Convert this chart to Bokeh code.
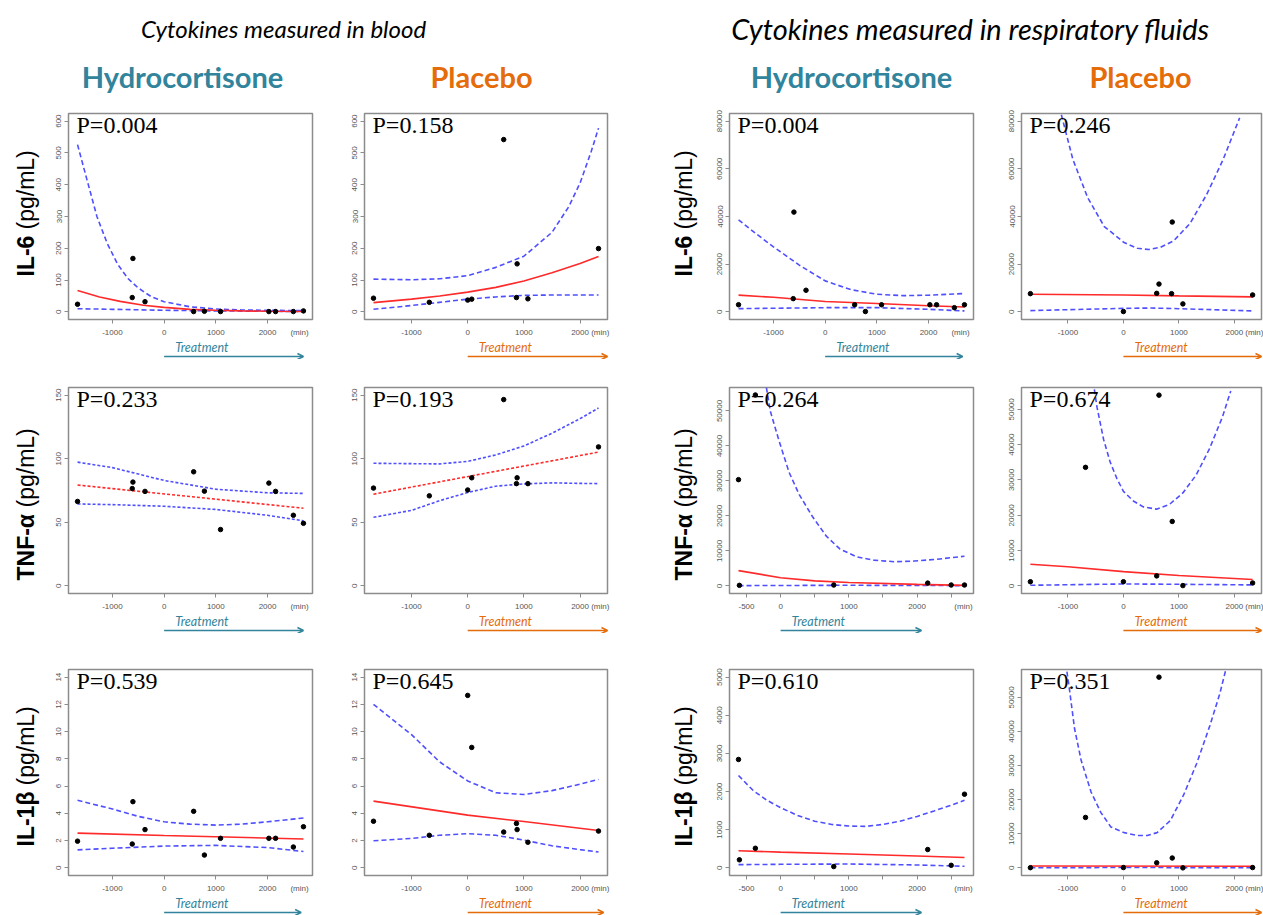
from bokeh.plotting import figure
from bokeh.layouts import row, column
from bokeh.models import Range1d, FixedTicker, Label, Arrow, OpenHead
from bokeh.embed import file_html
from bokeh.resources import INLINE

TEAL = "#31849B"
ORANGE = "#E46C0A"
RED = "#FF2A2A"
BLUE = "#4F4FFF"
GRAY = "#8c8c8c"

# ---------------- sample times (min) ----------------
HC_T = [-1675, -617, -604, -370, 571, 779, 1091, 2026, 2156, 2500, 2695]
BP_T = [-1677, -683, 0, 72, 641, 868, 880, 1072, 2329]
RH_T = [-617, -604, -370, 779, 2156, 2500, 2695]
RP_IL6_T = [-1677, 0, 600, 641, 868, 880, 1072, 2329]
RP_T = [-1677, -683, 0, 600, 641, 880, 1072, 2329]

# ---------------- Blood, Hydrocortisone, IL-6 ----------------
BH_IL6_Y = [24, 45, 168, 32, 1, 2, 1, 1, 1, 1, 3]
BH_IL6_FIT_X = [-1675, -1250, -850, -400, 0, 500, 1000, 1500, 2000, 2695]
BH_IL6_FIT_Y = [67, 47, 33, 21, 14, 8, 5, 3, 2, 1]
BH_IL6_HI_X = [-1675, -1500, -1300, -1100, -900, -700, -500, -250, 0, 500, 1000, 1500, 2000, 2695]
BH_IL6_HI_Y = [526, 420, 300, 215, 150, 105, 75, 48, 32, 16, 9, 6, 5, 4]
BH_IL6_LO_X = [-1675, -1000, 0, 1000, 2000, 2695]
BH_IL6_LO_Y = [10, 8, 5, 3, 2, 1]

# ---------------- Blood, Placebo, IL-6 ----------------
BP_IL6_Y = [43, 30, 37, 40, 542, 45, 151, 41, 199]
BP_IL6_FIT_X = [-1677, -1000, -500, 0, 500, 1000, 1500, 2000, 2329]
BP_IL6_FIT_Y = [29, 40, 50, 62, 77, 97, 123, 152, 174]
BP_IL6_HI_X = [-1677, -1000, -500, 0, 500, 1000, 1500, 1800, 2000, 2200, 2329]
BP_IL6_HI_Y = [103, 101, 104, 114, 140, 175, 250, 331, 405, 505, 578]
BP_IL6_LO_X = [-1677, -1000, -500, 0, 500, 1000, 1500, 2329]
BP_IL6_LO_Y = [8, 20, 30, 40, 47, 52, 53, 53]

# ---------------- Respiratory, Hydrocortisone, IL-6 ----------------
RH_IL6_Y = [3000, 5550, 41840, 9070, 2980, 135, 2980, 2980, 2980, 1760, 2980]
RH_IL6_FIT_X = [-1675, -1000, 0, 1000, 2000, 2695]
RH_IL6_FIT_Y = [7040, 6100, 4330, 3520, 2570, 2030]
RH_IL6_HI_X = [-1675, -1350, -1000, -500, 0, 500, 1000, 1500, 2000, 2695]
RH_IL6_HI_Y = [38600, 33000, 27300, 19600, 13000, 9300, 7400, 6800, 7000, 7700]
RH_IL6_LO_X = [-1675, 0, 1000, 2000, 2695]
RH_IL6_LO_Y = [1350, 1760, 1760, 1080, 400]

# ---------------- Respiratory, Placebo, IL-6 ----------------
RP_IL6_Y = [7640, 130, 7775, 11660, 7640, 37670, 3350, 7100]
RP_IL6_FIT_X = [-1677, 0, 1000, 2329]
RP_IL6_FIT_Y = [7370, 7100, 6700, 6300]
RP_IL6_HI_X = [-1119, -911, -643, -345, 12, 250, 458, 667, 905, 1202, 1500, 1798, 2095]
RP_IL6_HI_Y = [82700, 63940, 47860, 35790, 29090, 26680, 26140, 27080, 29760, 37130, 49200, 63940, 81370]
RP_IL6_LO_X = [-1677, 0, 500, 1000, 2329]
RP_IL6_LO_Y = [540, 1470, 1610, 1340, 400]

# ---------------- Blood, Hydrocortisone, TNF-a ----------------
BH_TNF_Y = [66.4, 76.5, 81.6, 74.3, 89.7, 74.5, 44.3, 80.8, 74.3, 55.5, 49.2]
BH_TNF_FIT_X = [-1675, 2695]
BH_TNF_FIT_Y = [79.3, 61.1]
BH_TNF_CI_X = [-1675, -1000, 0, 1000, 2000, 2695]
BH_TNF_HI_Y = [97.3, 93.0, 82.9, 76.0, 73.2, 72.7]
BH_TNF_LO_Y = [64.4, 63.9, 62.6, 60.1, 55.5, 51.2]

# ---------------- Blood, Placebo, TNF-a ----------------
BP_TNF_Y = [76.9, 70.8, 75.4, 85.0, 146.5, 80.4, 85.0, 80.4, 109.3]
BP_TNF_FIT_X = [-1677, 2329]
BP_TNF_FIT_Y = [72.1, 105.2]
BP_TNF_CI_X = [-1677, -1000, -500, 0, 500, 1000, 1500, 2000, 2329]
BP_TNF_HI_Y = [96.4, 96.1, 95.9, 97.9, 103, 110, 120, 131.5, 139.9]
BP_TNF_LO_Y = [53.9, 59.4, 67.0, 73.4, 78.4, 80.2, 81.0, 80.6, 80.4]

# ---------------- Respiratory, Hydrocortisone, TNF-a ----------------
RH_TNF_Y = [30380, 180, 54560, 270, 820, 270, 270]
RH_TNF_FIT_X = [-617, 0, 500, 1000, 2000, 2695]
RH_TNF_FIT_Y = [4380, 2370, 1460, 1000, 460, 180]
RH_TNF_HI_X = [-208, -149, -25, 124, 273, 471, 670, 868, 1117, 1365, 1663, 1960, 2258, 2695]
RH_TNF_HI_Y = [56660, 49820, 41600, 32480, 26100, 19700, 14230, 10580, 8300, 7390, 6930, 7120, 7570, 8490]
RH_TNF_LO_X = [-617, 1000, 2695]
RH_TNF_LO_Y = [100, 200, 100]

# ---------------- Respiratory, Placebo, TNF-a ----------------
RP_TNF_Y = [1190, 33580, 1190, 2840, 54040, 18260, 90, 830]
RP_TNF_FIT_X = [-1677, -1000, 0, 1000, 2329]
RP_TNF_FIT_Y = [6150, 5410, 4040, 2940, 1830]
RP_TNF_HI_X = [-524, -476, -357, -238, -119, 0, 179, 357, 595, 833, 1071, 1310, 1548, 1786, 1935]
RP_TNF_HI_Y = [55690, 50640, 41470, 35050, 30460, 26790, 24040, 22390, 21740, 23120, 26330, 31380, 38720, 47890, 55230]
RP_TNF_LO_X = [-1677, 0, 1000, 2329]
RP_TNF_LO_Y = [180, 550, 460, 280]

# ---------------- Blood, Hydrocortisone, IL-1b ----------------
BH_IL1_Y = [1.96, 1.75, 4.86, 2.81, 4.15, 0.94, 2.17, 2.17, 2.17, 1.53, 3.02]
BH_IL1_FIT_X = [-1675, 0, 2695]
BH_IL1_FIT_Y = [2.55, 2.38, 2.12]
BH_IL1_HI_X = [-1675, -1000, -500, 0, 500, 1000, 1500, 2000, 2695]
BH_IL1_HI_Y = [4.96, 4.32, 3.78, 3.38, 3.21, 3.14, 3.21, 3.38, 3.66]
BH_IL1_LO_X = [-1675, -1000, 0, 1000, 2000, 2695]
BH_IL1_LO_Y = [1.32, 1.44, 1.60, 1.65, 1.49, 1.20]

# ---------------- Blood, Placebo, IL-1b ----------------
BP_IL1_Y = [3.42, 2.39, 12.66, 8.84, 2.63, 3.26, 2.81, 1.88, 2.70]
BP_IL1_FIT_X = [-1677, 0, 1000, 2329]
BP_IL1_FIT_Y = [4.90, 3.87, 3.40, 2.74]
BP_IL1_CI_X = [-1677, -1000, -500, 0, 500, 1000, 1500, 2000, 2329]
BP_IL1_HI_Y = [12.0, 9.78, 7.78, 6.38, 5.51, 5.39, 5.67, 6.14, 6.49]
BP_IL1_LO_Y = [1.99, 2.16, 2.39, 2.51, 2.39, 2.04, 1.62, 1.34, 1.17]

# ---------------- Respiratory, Hydrocortisone, IL-1b ----------------
RH_IL1_Y = [2842, 211, 514, 34, 481, 67, 1931]
RH_IL1_FIT_X = [-617, 0, 1000, 2000, 2695]
RH_IL1_FIT_Y = [447, 413, 363, 312, 270]
RH_IL1_HI_X = [-617, -400, -200, 0, 250, 500, 750, 1000, 1250, 1500, 1750, 2000, 2250, 2500, 2695]
RH_IL1_HI_Y = [2420, 2024, 1771, 1577, 1374, 1223, 1138, 1096, 1088, 1138, 1223, 1349, 1492, 1644, 1771]
RH_IL1_LO_X = [-617, 0, 1000, 2000, 2695]
RH_IL1_LO_Y = [84, 93, 101, 76, 42]

# ---------------- Respiratory, Placebo, IL-1b ----------------
RP_IL1_Y = [50, 14800, 90, 1490, 55960, 2890, 0, 90]
RP_IL1_FIT_X = [-1677, 2329]
RP_IL1_FIT_Y = [560, 470]
RP_IL1_HI_X = [-1018, -970, -881, -762, -583, -405, -226, 12, 250, 429, 607, 845, 1083, 1321, 1560, 1738, 1845]
RP_IL1_HI_Y = [57600, 52050, 40880, 31560, 22250, 16200, 12010, 10340, 9500, 9500, 10340, 13870, 21320, 30630, 41810, 51120, 58100]
RP_IL1_LO_X = [-1677, 0, 1000, 2329]
RP_IL1_LO_Y = [50, 100, 80, 40]

P_VALUES = [["P=0.004", "P=0.158", "P=0.004", "P=0.246"],
            ["P=0.233", "P=0.193", "P=0.264", "P=0.674"],
            ["P=0.539", "P=0.645", "P=0.610", "P=0.351"]]

ROW_LABELS = ["IL-6", "TNF-α", "IL-1β"]
UNIT_LABEL = "(pg/mL)"
COL_TITLES = ["Hydrocortisone", "Placebo", "Hydrocortisone", "Placebo"]
SECTION_TITLES = ["Cytokines measured in blood", "Cytokines measured in respiratory fluids"]
TREAT = "Treatment"
MIN_LABEL = "(min)"

X_TICKS = [-1000, 0, 1000, 2000]
X_TICKS_R = [-500, 0, 500, 1000, 1500, 2000, 2500]
X_LABELS_R = [-500, 0, 1000, 2000]
HC_XR = (-1850, 2870)
PL_XR = (-1837, 2489)
RH_XR = (-749, 2827)
MIN_POS = {"hc": 2620, "pl": 2360, "rh": 2680}

Y_IL6_B = list(range(0, 601, 100))
Y_IL6_R = [0, 20000, 40000, 60000, 80000]
Y_TNF_B = [0, 50, 100, 150]
Y_50K = [0, 10000, 20000, 30000, 40000, 50000]
Y_IL1_B = list(range(0, 15, 2))
Y_IL1_R = [0, 1000, 2000, 3000, 4000, 5000]


def P(xr, yr, yt, px, py, fx, fy, lx, ly, hx, hy, kind, arrow_end, dash="5 3", fit_dash="solid"):
    return dict(xr=xr, yr=yr, yt=yt, px=px, py=py, fx=fx, fy=fy, lx=lx, ly=ly,
                hx=hx, hy=hy, kind=kind, arrow_end=arrow_end, dash=dash, fit_dash=fit_dash)


GRID = [
    [P(HC_XR, (-24, 624), Y_IL6_B, HC_T, BH_IL6_Y, BH_IL6_FIT_X, BH_IL6_FIT_Y, BH_IL6_LO_X, BH_IL6_LO_Y, BH_IL6_HI_X, BH_IL6_HI_Y, "hc", 2695),
     P(PL_XR, (-24, 624), Y_IL6_B, BP_T, BP_IL6_Y, BP_IL6_FIT_X, BP_IL6_FIT_Y, BP_IL6_LO_X, BP_IL6_LO_Y, BP_IL6_HI_X, BP_IL6_HI_Y, "pl", 2489),
     P(HC_XR, (-3200, 83200), Y_IL6_R, HC_T, RH_IL6_Y, RH_IL6_FIT_X, RH_IL6_FIT_Y, RH_IL6_LO_X, RH_IL6_LO_Y, RH_IL6_HI_X, RH_IL6_HI_Y, "hc", 2660),
     P(PL_XR, (-3200, 83200), Y_IL6_R, RP_IL6_T, RP_IL6_Y, RP_IL6_FIT_X, RP_IL6_FIT_Y, RP_IL6_LO_X, RP_IL6_LO_Y, RP_IL6_HI_X, RP_IL6_HI_Y, "pl", 2489)],
    [P(HC_XR, (-6, 156), Y_TNF_B, HC_T, BH_TNF_Y, BH_TNF_FIT_X, BH_TNF_FIT_Y, BH_TNF_CI_X, BH_TNF_LO_Y, BH_TNF_CI_X, BH_TNF_HI_Y, "hc", 2695, dash="3 2", fit_dash="3 2"),
     P(PL_XR, (-6, 156), Y_TNF_B, BP_T, BP_TNF_Y, BP_TNF_FIT_X, BP_TNF_FIT_Y, BP_TNF_CI_X, BP_TNF_LO_Y, BP_TNF_CI_X, BP_TNF_HI_Y, "pl", 2489, dash="3 2", fit_dash="3 2"),
     P(RH_XR, (-2150, 56700), Y_50K, RH_T, RH_TNF_Y, RH_TNF_FIT_X, RH_TNF_FIT_Y, RH_TNF_LO_X, RH_TNF_LO_Y, RH_TNF_HI_X, RH_TNF_HI_Y, "rh", 2064),
     P(PL_XR, (-2150, 56200), Y_50K, RP_T, RP_TNF_Y, RP_TNF_FIT_X, RP_TNF_FIT_Y, RP_TNF_LO_X, RP_TNF_LO_Y, RP_TNF_HI_X, RP_TNF_HI_Y, "pl", 2489)],
    [P(HC_XR, (-0.56, 14.56), Y_IL1_B, HC_T, BH_IL1_Y, BH_IL1_FIT_X, BH_IL1_FIT_Y, BH_IL1_LO_X, BH_IL1_LO_Y, BH_IL1_HI_X, BH_IL1_HI_Y, "hc", 2650),
     P(PL_XR, (-0.56, 14.56), Y_IL1_B, BP_T, BP_IL1_Y, BP_IL1_FIT_X, BP_IL1_FIT_Y, BP_IL1_CI_X, BP_IL1_LO_Y, BP_IL1_CI_X, BP_IL1_HI_Y, "pl", 2420),
     P(RH_XR, (-200, 5200), Y_IL1_R, RH_T, RH_IL1_Y, RH_IL1_FIT_X, RH_IL1_FIT_Y, RH_IL1_LO_X, RH_IL1_LO_Y, RH_IL1_HI_X, RH_IL1_HI_Y, "rh", 2064),
     P(PL_XR, (-2240, 58200), Y_50K, RP_T, RP_IL1_Y, RP_IL1_FIT_X, RP_IL1_FIT_Y, RP_IL1_LO_X, RP_IL1_LO_Y, RP_IL1_HI_X, RP_IL1_HI_Y, "pl", 2489)],
]

# ---------------- layout geometry (page pixels, no body margin) ----------------
PAGE_W = 1263
LAB_W = [48, 49]                      # widths of the row-label strips before col 1 and col 3
LAB_X = [25, 23]                      # label centre inside those strips
COLS = [(290, 20, 26), (322, 26, 53), (288, 20, 24), (266, 24, 2)]  # (width, left, right)
FRAME_LEFT = [68, 364, 729, 1021]     # resulting frame left edges on the page
ROWS = [(231, 5, 16), (254, 28, 16), (262, 36, 16)]                 # (height, top, bottom)
STRIP_H = 20
STRIP_TEXT_Y = 12.3
STRIP_ARROW_Y = 3
HDR_H = 108
# row label: (start y above canvas bottom, offset of unit text)
ROW_LABEL_POS = [(43, 47), (13, 73), (29, 61)]


def fmt(t):
    return str(int(t))


def blank(w, h):
    f = figure(width=w, height=h, x_range=Range1d(0, w), y_range=Range1d(0, h),
               output_backend="svg", toolbar_location=None, min_border=0,
               x_axis_location=None, y_axis_location=None)
    f.grid.visible = False
    f.outline_line_color = None
    f.background_fill_color = "white"
    f.border_fill_color = "white"
    return f


def make_panel(ri, ci):
    cfg = GRID[ri][ci]
    w, bl, br = COLS[ci]
    h, bt, bb = ROWS[ri]
    fh = h - bt - bb
    xr, yr = cfg["xr"], cfg["yr"]
    p = figure(width=w, height=h, x_range=Range1d(*xr), y_range=Range1d(*yr),
               output_backend="svg", toolbar_location=None,
               min_border_left=bl, min_border_right=br, min_border_top=bt, min_border_bottom=bb)
    p.grid.visible = False
    p.outline_line_color = GRAY
    p.outline_line_width = 1.5
    p.background_fill_color = "white"
    p.border_fill_color = "white"

    kind = cfg["kind"]
    if kind == "rh":
        labeled, marks = X_LABELS_R, X_TICKS_R
    else:
        labeled, marks = X_TICKS, X_TICKS
    mpos = MIN_POS[kind]
    p.xaxis.ticker = FixedTicker(ticks=labeled + [mpos], minor_ticks=marks)
    ov = {t: fmt(t) for t in labeled}
    ov[mpos] = MIN_LABEL
    p.xaxis.major_label_overrides = ov
    p.xaxis.major_tick_out = 0
    p.xaxis.major_tick_in = 0
    p.xaxis.minor_tick_out = 4
    p.xaxis.minor_tick_in = 0
    p.xaxis.minor_tick_line_color = GRAY
    p.xaxis.major_label_standoff = 4

    p.yaxis.ticker = FixedTicker(ticks=cfg["yt"], minor_ticks=[])
    p.yaxis.major_label_overrides = {t: fmt(t) for t in cfg["yt"]}
    p.yaxis.major_label_orientation = "vertical"
    p.yaxis.major_tick_out = 4
    p.yaxis.major_tick_in = 0
    p.yaxis.minor_tick_line_color = None
    p.yaxis.major_label_standoff = 3
    for ax in (p.xaxis, p.yaxis):
        ax.axis_line_color = GRAY
        ax.major_tick_line_color = GRAY
        ax.major_label_text_font = "Liberation Sans"
        ax.major_label_text_font_size = "8px"
        ax.major_label_text_color = "#555555"

    p.line(cfg["hx"], cfg["hy"], line_color=BLUE, line_width=1.6, line_dash=cfg["dash"])
    p.line(cfg["lx"], cfg["ly"], line_color=BLUE, line_width=1.6, line_dash=cfg["dash"])
    p.line(cfg["fx"], cfg["fy"], line_color=RED, line_width=1.6, line_dash=cfg["fit_dash"])
    p.scatter(cfg["px"], cfg["py"], size=4.5, color="black")

    p.add_layout(Label(x=8, y=fh - 15, x_units="screen", y_units="screen", text=P_VALUES[ri][ci],
                       text_font="Liberation Serif", text_font_size="24px", text_color="black",
                       text_align="left", text_baseline="middle"))
    return p


def make_row_label(ri, li):
    h = ROWS[ri][0]
    f = blank(LAB_W[li], h)
    y0, du = ROW_LABEL_POS[ri]
    x = LAB_X[li]
    f.add_layout(Label(x=x, y=y0, x_units="screen", y_units="screen", text=ROW_LABELS[ri],
                       angle=1.5707963, text_font="Liberation Sans", text_font_style="bold",
                       text_font_size="23px", text_color="black",
                       text_align="left", text_baseline="middle"))
    f.add_layout(Label(x=x, y=y0 + du, x_units="screen", y_units="screen", text=UNIT_LABEL,
                       angle=1.5707963, text_font="Liberation Sans", text_font_style="normal",
                       text_font_size="23px", text_color="black",
                       text_align="left", text_baseline="middle"))
    return f


def make_strip(ri):
    f = blank(PAGE_W, STRIP_H)
    for ci in range(4):
        cfg = GRID[ri][ci]
        xr = cfg["xr"]
        fw = COLS[ci][0] - COLS[ci][1] - COLS[ci][2]
        color = TEAL if ci in (0, 2) else ORANGE

        def sx(x):
            return FRAME_LEFT[ci] + (x - xr[0]) / (xr[1] - xr[0]) * fw

        x0 = sx(0)
        x1 = min(sx(cfg["arrow_end"]), FRAME_LEFT[ci] + fw)
        f.add_layout(Arrow(end=OpenHead(size=6, line_color=color, line_width=1.5),
                           x_start=x0, y_start=STRIP_ARROW_Y, x_end=x1, y_end=STRIP_ARROW_Y,
                           start_units="screen", end_units="screen",
                           line_color=color, line_width=1.5))
        f.add_layout(Label(x=x0 + 11, y=STRIP_TEXT_Y, x_units="screen", y_units="screen", text=TREAT,
                           text_font="Lato", text_font_style="italic", text_font_size="12.5px",
                           text_color=color, text_align="left", text_baseline="middle"))
    return f


hdr = blank(PAGE_W, HDR_H)
hdr.add_layout(Label(x=283, y=HDR_H - 28, x_units="screen", y_units="screen", text=SECTION_TITLES[0],
                     text_font="Lato", text_font_style="italic", text_font_size="24px",
                     text_color="black", text_align="center", text_baseline="middle"))
hdr.add_layout(Label(x=970, y=HDR_H - 28, x_units="screen", y_units="screen", text=SECTION_TITLES[1],
                     text_font="Lato", text_font_style="italic", text_font_size="29px",
                     text_color="black", text_align="center", text_baseline="middle"))
TITLE_X = [182, 481, 851, 1140]
for ci in range(4):
    hdr.add_layout(Label(x=TITLE_X[ci], y=32, x_units="screen", y_units="screen", text=COL_TITLES[ci],
                         text_font="Lato", text_font_style="bold", text_font_size="29px",
                         text_color=TEAL if ci in (0, 2) else ORANGE,
                         text_align="center", text_baseline="middle"))

parts = [hdr]
for ri in range(3):
    parts.append(row(make_row_label(ri, 0), make_panel(ri, 0), make_panel(ri, 1),
                     make_row_label(ri, 1), make_panel(ri, 2), make_panel(ri, 3)))
    parts.append(make_strip(ri))
layout = column(*parts)

open("out.html", "w").write(file_html(layout, INLINE))
